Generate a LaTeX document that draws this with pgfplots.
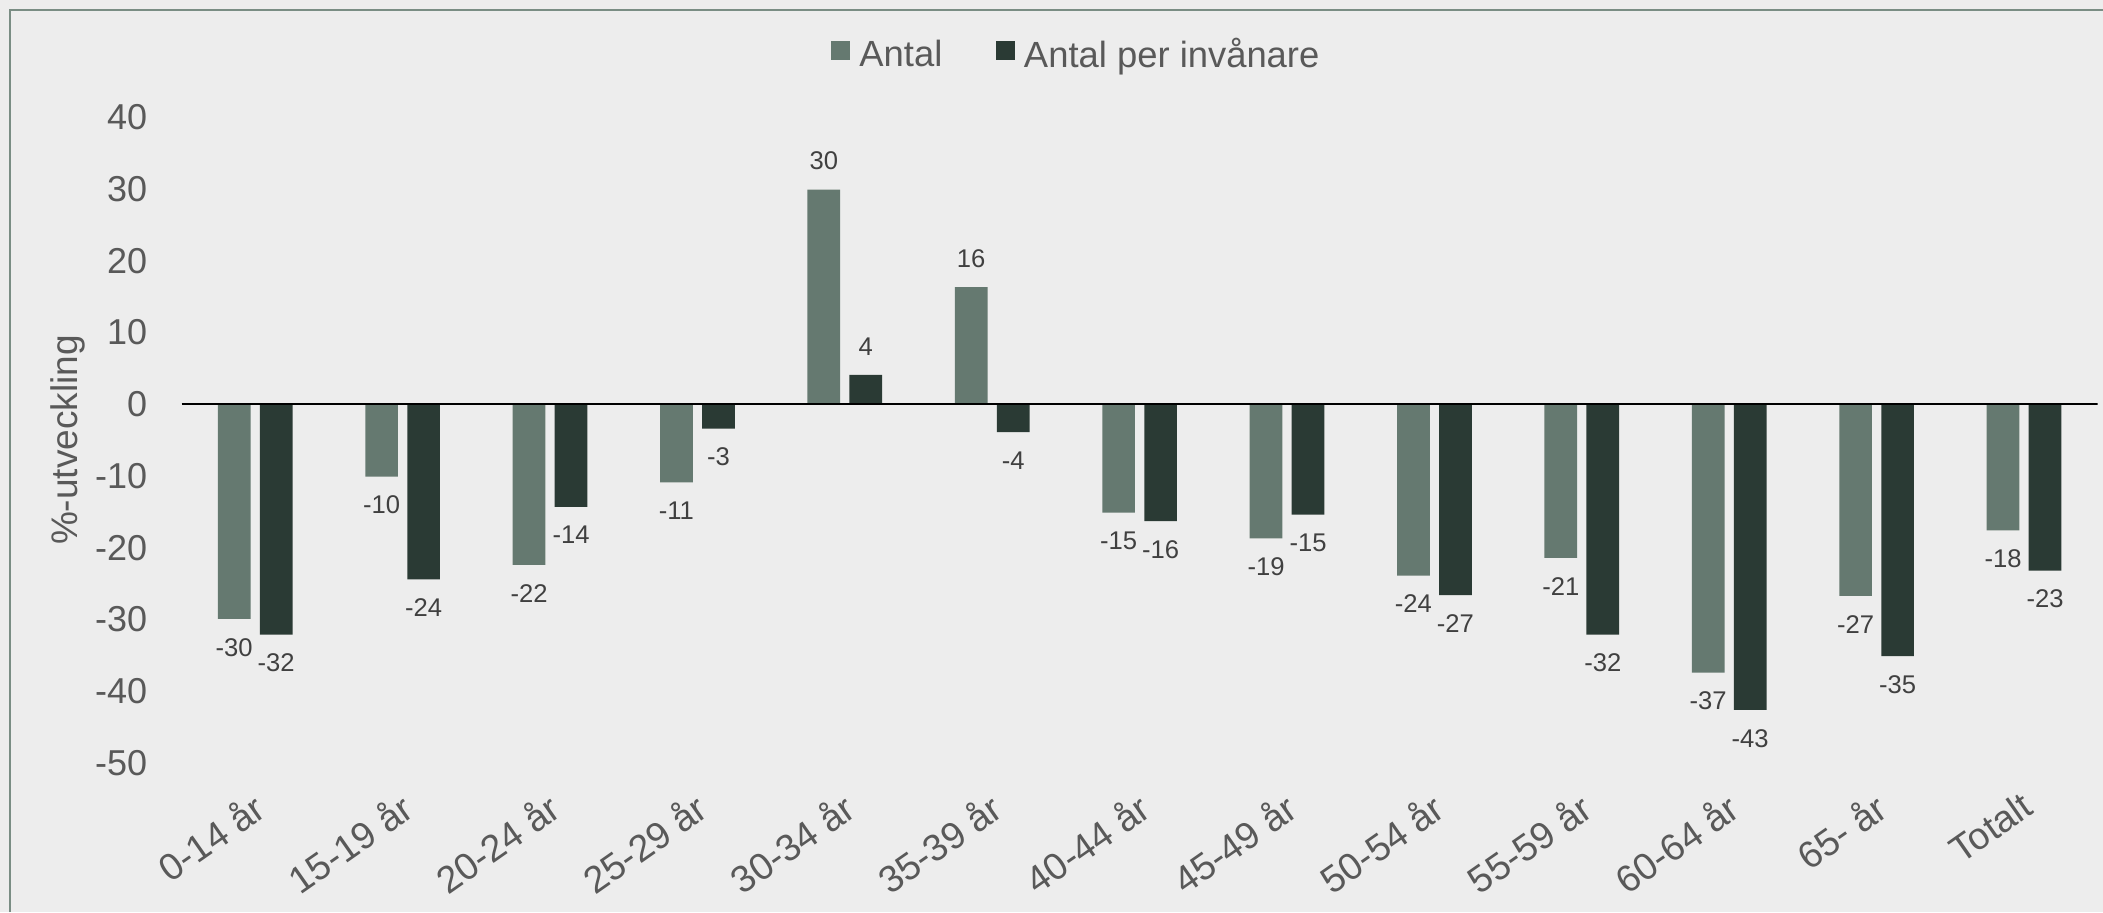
\documentclass[border=0pt]{standalone}
\usepackage{fontspec}
\setmainfont{Liberation Sans}
\usepackage{pgfplots}
\pgfplotsset{compat=1.18}
\definecolor{bg}{HTML}{EDEDED}
\definecolor{cA}{HTML}{657970}
\definecolor{cB}{HTML}{2A3A34}
\definecolor{txt}{HTML}{595959}
\definecolor{lbl}{HTML}{404040}
\definecolor{framec}{HTML}{7A8D84}
\begin{document}
\begin{tikzpicture}
\fill[bg] (0,0) rectangle (1051.5pt,456pt);
\useasboundingbox (0,0) rectangle (1051.5pt,456pt);
\draw[framec, line width=1pt] (5pt,0) -- (5pt,450.75pt) -- (1051.5pt,450.75pt);
\begin{axis}[
  at={(90.75pt,74.5pt)}, anchor=south west,
  scale only axis, width=958.1pt, height=322.95pt,
  xmin=-0.5, xmax=12.5, ymin=-50, ymax=40,
  ytick={-50,-40,...,40},
  xtick={0,...,12},
  xticklabels={0-14 år,15-19 år,20-24 år,25-29 år,30-34 år,35-39 år,40-44 år,45-49 år,50-54 år,55-59 år,60-64 år,65- år,Totalt},
  axis line style={draw=none},
  major tick length=0pt,
  /pgf/number format/assume math mode=true,
  yticklabel style={font=\fontsize{18}{20}\selectfont, text=txt, inner sep=0pt, anchor=east, xshift=-17pt},
  xticklabel style={font=\fontsize{18.8}{20}\selectfont, text=txt, inner sep=0pt, yshift=-13.5pt, xshift=-2.2pt, rotate=35, anchor=north east},
  ylabel={\%-utveckling},
  ylabel style={font=\fontsize{18.5}{20}\selectfont, text=txt, at={(axis description cs:-0.0595,0.5)}, anchor=center},
  ybar=4.65pt, bar width=16.35pt,
  point meta=y,
  nodes near coords={\pgfmathprintnumber[fixed,precision=0,assume math mode=true]{\pgfplotspointmeta}},
  nodes near coords align={vertical},
  nodes near coords style={font=\fontsize{12.8}{14}\selectfont, text=lbl, inner xsep=0pt, inner ysep=9.5pt},
  legend columns=-1,
  legend style={at={(0.4665,1.0965)}, anchor=center, draw=none, fill=none, inner sep=0pt,
    font=\fontsize{18.2}{20}\selectfont, text=txt,
    nodes={inner xsep=0pt, inner ysep=1pt},
    /tikz/every odd column/.append style={column sep=4.7pt},
    /tikz/every even column/.append style={column sep=26.8pt}},
  legend image code/.code={\fill[#1] (0pt,-2.6pt) rectangle (9.3pt,6.7pt);},
]
\addplot[fill=cA, draw=none] coordinates {
(0,-29.9) (1,-10.1) (2,-22.4) (3,-10.9) (4,29.9) (5,16.3)
(6,-15.1) (7,-18.7) (8,-23.9) (9,-21.4) (10,-37.4) (11,-26.7) (12,-17.6)};
\addplot[fill=cB, draw=none] coordinates {
(0,-32.1) (1,-24.4) (2,-14.3) (3,-3.4) (4,4.1) (5,-3.9)
(6,-16.3) (7,-15.4) (8,-26.6) (9,-32.1) (10,-42.6) (11,-35.1) (12,-23.2)};
\legend{Antal, Antal per invånare}
\draw[black, line width=1pt] (axis cs:-0.5,0) -- (axis cs:12.5,0);
\end{axis}
\end{tikzpicture}
\end{document}
